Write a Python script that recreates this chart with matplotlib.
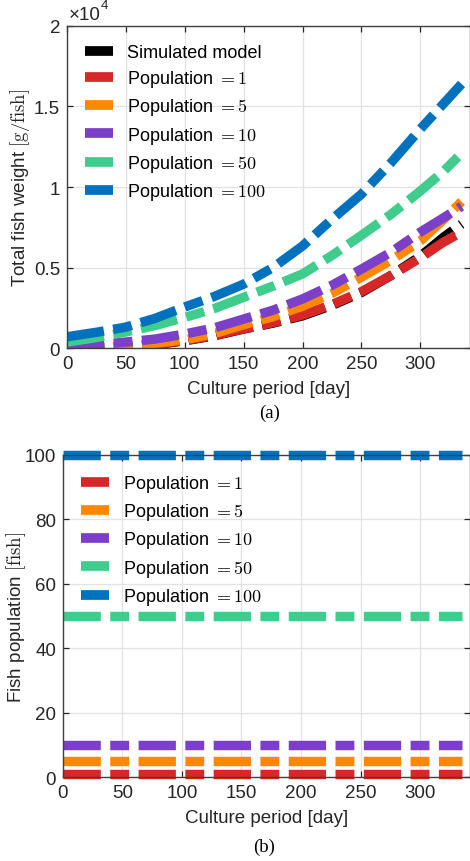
import matplotlib
matplotlib.use("Agg")
import matplotlib.pyplot as plt
from matplotlib.lines import Line2D

plt.rcParams['font.family'] = ['Liberation Sans', 'DejaVu Sans']
plt.rcParams['mathtext.fontset'] = 'cm'

# --- data ---
days = [0, 25, 50, 75, 100, 125, 150, 175, 200, 225, 250, 275, 300, 320, 335]
days_pop1 = [0, 25, 50, 75, 100, 125, 150, 175, 200, 225, 250, 275, 300, 318, 330]
w_sim = [0, 20, 80, 220, 450, 760, 1180, 1550, 2000, 2650, 3450, 4500, 5700, 6900, 7700]
w_pop1 = [0, 20, 90, 230, 470, 780, 1200, 1580, 2050, 2700, 3500, 4500, 5600, 6500, 7000]
w_pop5 = [0, 40, 130, 300, 520, 900, 1450, 1950, 2600, 3400, 4400, 5450, 6650, 8000, 9100]
w_pop10 = [120, 220, 370, 560, 870, 1250, 1800, 2350, 3050, 3900, 4900, 5950, 7200, 8100, 8800]
w_pop50 = [370, 650, 1000, 1400, 1900, 2450, 3150, 3850, 4600, 5750, 7000, 8300, 9750, 11000, 12100]
w_pop100 = [700, 980, 1300, 1850, 2550, 3200, 3970, 5000, 6340, 8000, 9560, 11500, 13600, 15200, 16400]

pop_days = [0, 335]
populations = [1, 5, 10, 50, 100]
pop_labels = ["Population $= 1$", "Population $= 5$", "Population $= 10$",
              "Population $= 50$", "Population $= 100$"]
pop_colors = ["#D62828", "#FF8800", "#7B3FC8", "#40CC8C", "#0072BD"]

LW = 6.8
DASH = (3.95, 1.0, 2.0, 1.0)
AXC = "#404040"


def style(ax, yticks, ylim):
    ax.set_xlim(0, 342)
    ax.set_ylim(*ylim)
    ax.set_xticks([0, 50, 100, 150, 200, 250, 300])
    ax.set_yticks(yticks)
    ax.grid(True, color="#e2e2e2", lw=0.9)
    ax.set_axisbelow(True)
    ax.tick_params(direction="in", length=4, top=True, right=True,
                   labelsize=13.5, colors="#262626", width=0.9, pad=5)
    for s in ax.spines.values():
        s.set_color(AXC)
        s.set_linewidth(1.0)


def legend(ax, labels, colors):
    handles = [Line2D([], [], color=c, lw=7, solid_capstyle="butt") for c in colors]
    ax.legend(handles, labels, loc="upper left", frameon=False, fontsize=13,
              handlelength=1.55, handletextpad=0.75, labelspacing=0.4,
              borderaxespad=0.5, borderpad=0.5)


fig = plt.figure(figsize=(4.7, 8.62), dpi=100)

# (a) total fish weight
ax1 = fig.add_axes([0.1426, 0.5951, 0.857, 0.3736])
weights = [w_sim, w_pop1, w_pop5, w_pop10, w_pop50, w_pop100]
xs = [days, days_pop1, days, days, days, days]
colors_a = ["black"] + pop_colors
labels_a = ["Simulated model"] + pop_labels
for x, w, c in zip(xs, weights, colors_a):
    ax1.plot(x, w, color=c, lw=LW, dashes=DASH)
style(ax1, [0, 5000, 10000, 15000, 20000], (0, 20000))
ax1.set_yticklabels(["0", "0.5", "1", "1.5", "2"])
ax1.set_xlabel("Culture period [day]", fontsize=13.5, color="#262626", labelpad=6)
ax1.set_ylabel(r"Total fish weight $[\mathrm{g/fish}]$", fontsize=13.5, color="#262626",
               va="center")
ax1.yaxis.set_label_coords(-0.117, 0.5)
ax1.text(0.003, 1.01, "×10", transform=ax1.transAxes, fontsize=13.5, color="#262626",
         ha="left", va="bottom")
ax1.text(0.083, 1.045, "4", transform=ax1.transAxes, fontsize=9.5, color="#262626",
         ha="left", va="bottom")
legend(ax1, labels_a, colors_a)
fig.text(0.574, 0.521, "(a)", family="Liberation Serif", fontsize=13.5, ha="center", va="center")

# (b) fish population
ax2 = fig.add_axes([0.134, 0.0974, 0.866, 0.3736])
for p, c in zip(populations, pop_colors):
    ax2.plot(pop_days, [p, p], color=c, lw=LW, dashes=DASH, clip_on=False)
style(ax2, [0, 20, 40, 60, 80, 100], (0, 100))
ax2.set_xlabel("Culture period [day]", fontsize=13.5, color="#262626", labelpad=6)
ax2.set_ylabel(r"Fish population $[\mathrm{fish}]$", fontsize=13.5, color="#262626",
               va="center")
ax2.yaxis.set_label_coords(-0.115, 0.5)
legend(ax2, pop_labels, pop_colors)
fig.text(0.562, 0.017, "(b)", family="Liberation Serif", fontsize=13.5, ha="center", va="center")

fig.savefig("out.png", dpi=100)
